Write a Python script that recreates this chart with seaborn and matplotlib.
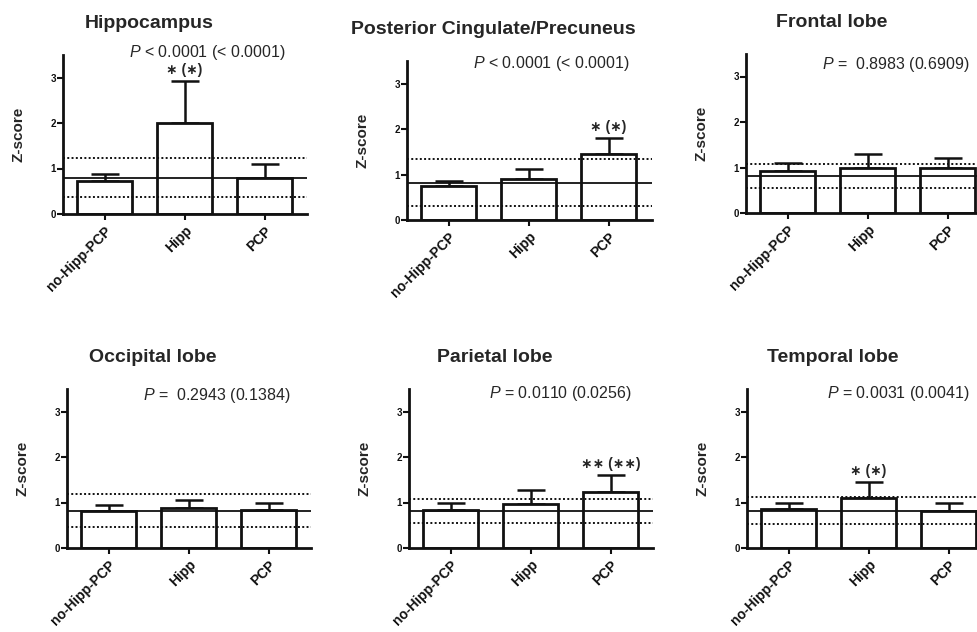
import numpy as np
import pandas as pd
import matplotlib
matplotlib.use("Agg")
import matplotlib.pyplot as plt
import seaborn as sns

sns.set_theme(style="white")
plt.rcParams['font.family'] = ['Liberation Sans', 'DejaVu Sans']
plt.rcParams['mathtext.fontset'] = 'custom'
plt.rcParams['mathtext.rm'] = 'Liberation Sans'
plt.rcParams['mathtext.it'] = 'Liberation Sans:italic'

# data
groups = ['no-Hipp-PCP', 'Hipp', 'PCP']
regions = ['Hippocampus', 'Posterior Cingulate/Precuneus', 'Frontal lobe',
           'Occipital lobe', 'Parietal lobe', 'Temporal lobe']

means = [[0.73, 1.99, 0.79],
         [0.75, 0.90, 1.45],
         [0.93, 1.00, 1.00],
         [0.81, 0.89, 0.84],
         [0.84, 0.97, 1.22],
         [0.86, 1.09, 0.82]]

sems = [[0.14, 0.93, 0.30],
        [0.10, 0.22, 0.35],
        [0.16, 0.30, 0.21],
        [0.14, 0.16, 0.16],
        [0.14, 0.31, 0.38],
        [0.14, 0.35, 0.18]]

# reference band: mean, upper, lower
ref_mean = [0.80, 0.82, 0.81, 0.82, 0.81, 0.82]
ref_upper = [1.24, 1.33, 1.075, 1.19, 1.07, 1.13]
ref_lower = [0.38, 0.31, 0.54, 0.47, 0.55, 0.52]

p_texts = [r'$P$ < 0.0001 (< 0.0001)',
           r'$P$ < 0.0001 (< 0.0001)',
           r'$P$ =  0.8983 (0.6909)',
           r'$P$ =  0.2943 (0.1384)',
           r'$P$ = 0.0110 (0.0256)',
           r'$P$ = 0.0031 (0.0041)']

# significance marks: (region index, group index, label)
stars = [(0, 1, '∗ (∗)'), (1, 2, '∗ (∗)'), (4, 2, '∗∗ (∗∗)'), (5, 1, '∗ (∗)')]

# layout in pixels (left of y axis, zero line from top, width)
W, H = 978, 632
lefts = [63, 407, 746, 67, 409, 747]
zeros = [214, 220, 213, 548, 548, 548]
widths = [244, 245, 232, 244, 244, 231]
p_y = [3.54, 3.44, 3.26, 3.35, 3.39, 3.39]
px_per_unit_y = 45.5
px_per_unit_x = 80.0
ymax = 3.5

fig = plt.figure(figsize=(W / 100, H / 100), dpi=100)

for i, region in enumerate(regions):
    ah = ymax * px_per_unit_y
    ax = fig.add_axes([lefts[i] / W, 1 - zeros[i] / H, widths[i] / W, ah / H])

    df = pd.DataFrame({'group': groups, 'z': means[i]})
    sns.barplot(data=df, x='group', y='z', order=groups, color='white',
                edgecolor='#111111', linewidth=2.0, width=0.69,
                errorbar=None, ax=ax, zorder=2)
    for p in ax.patches:
        p.set_facecolor('white')

    xs = np.arange(len(groups))
    ax.errorbar(xs, means[i], yerr=[np.zeros(3), sems[i]], fmt='none',
                ecolor='#111111', elinewidth=1.8, capsize=10, capthick=1.8, zorder=1.5)

    ax.axhline(ref_mean[i], color='#111111', lw=1.3, zorder=3)
    ax.axhline(ref_upper[i], color='#111111', lw=1.4, ls=(0, (1, 1.2)), zorder=3)
    ax.axhline(ref_lower[i], color='#111111', lw=1.4, ls=(0, (1, 1.2)), zorder=3)

    ax.set_xlim(-0.52, -0.52 + widths[i] / px_per_unit_x)
    ax.set_ylim(0, ymax)
    ax.set_yticks([0, 1, 2, 3])
    ax.set_yticklabels(['0', '1', '2', '3'], fontsize=7, fontweight='bold')
    ax.set_xticks(xs)
    ax.set_xticklabels(groups, rotation=45, ha='right', rotation_mode='anchor',
                       fontsize=10, fontweight='bold')
    ax.tick_params(axis='both', direction='out', length=4, width=1.5,
                   colors='#111111', bottom=True, left=True)
    ax.tick_params(axis='x', pad=3)
    ax.tick_params(axis='y', pad=1)

    for s in ['top', 'right']:
        ax.spines[s].set_visible(False)
    for s in ['left', 'bottom']:
        ax.spines[s].set_linewidth(2.0)
        ax.spines[s].set_color('#111111')

    ax.set_xlabel('')
    ax.set_ylabel('Z-score', fontsize=11, fontweight='bold', labelpad=18)

    ax.text(86 / widths[i], 1 + 31 / ah, region, transform=ax.transAxes,
            ha='center', va='center', fontsize=14, fontweight='bold')
    ax.text(2.27, p_y[i], p_texts[i], ha='right', va='center', fontsize=11.5)

    for r, g, lab in stars:
        if r == i:
            ax.text(g, means[i][g] + sems[i][g] + 0.25, lab, ha='center',
                    va='center', fontsize=10, fontweight='bold')

fig.savefig('out.png', dpi=100)
